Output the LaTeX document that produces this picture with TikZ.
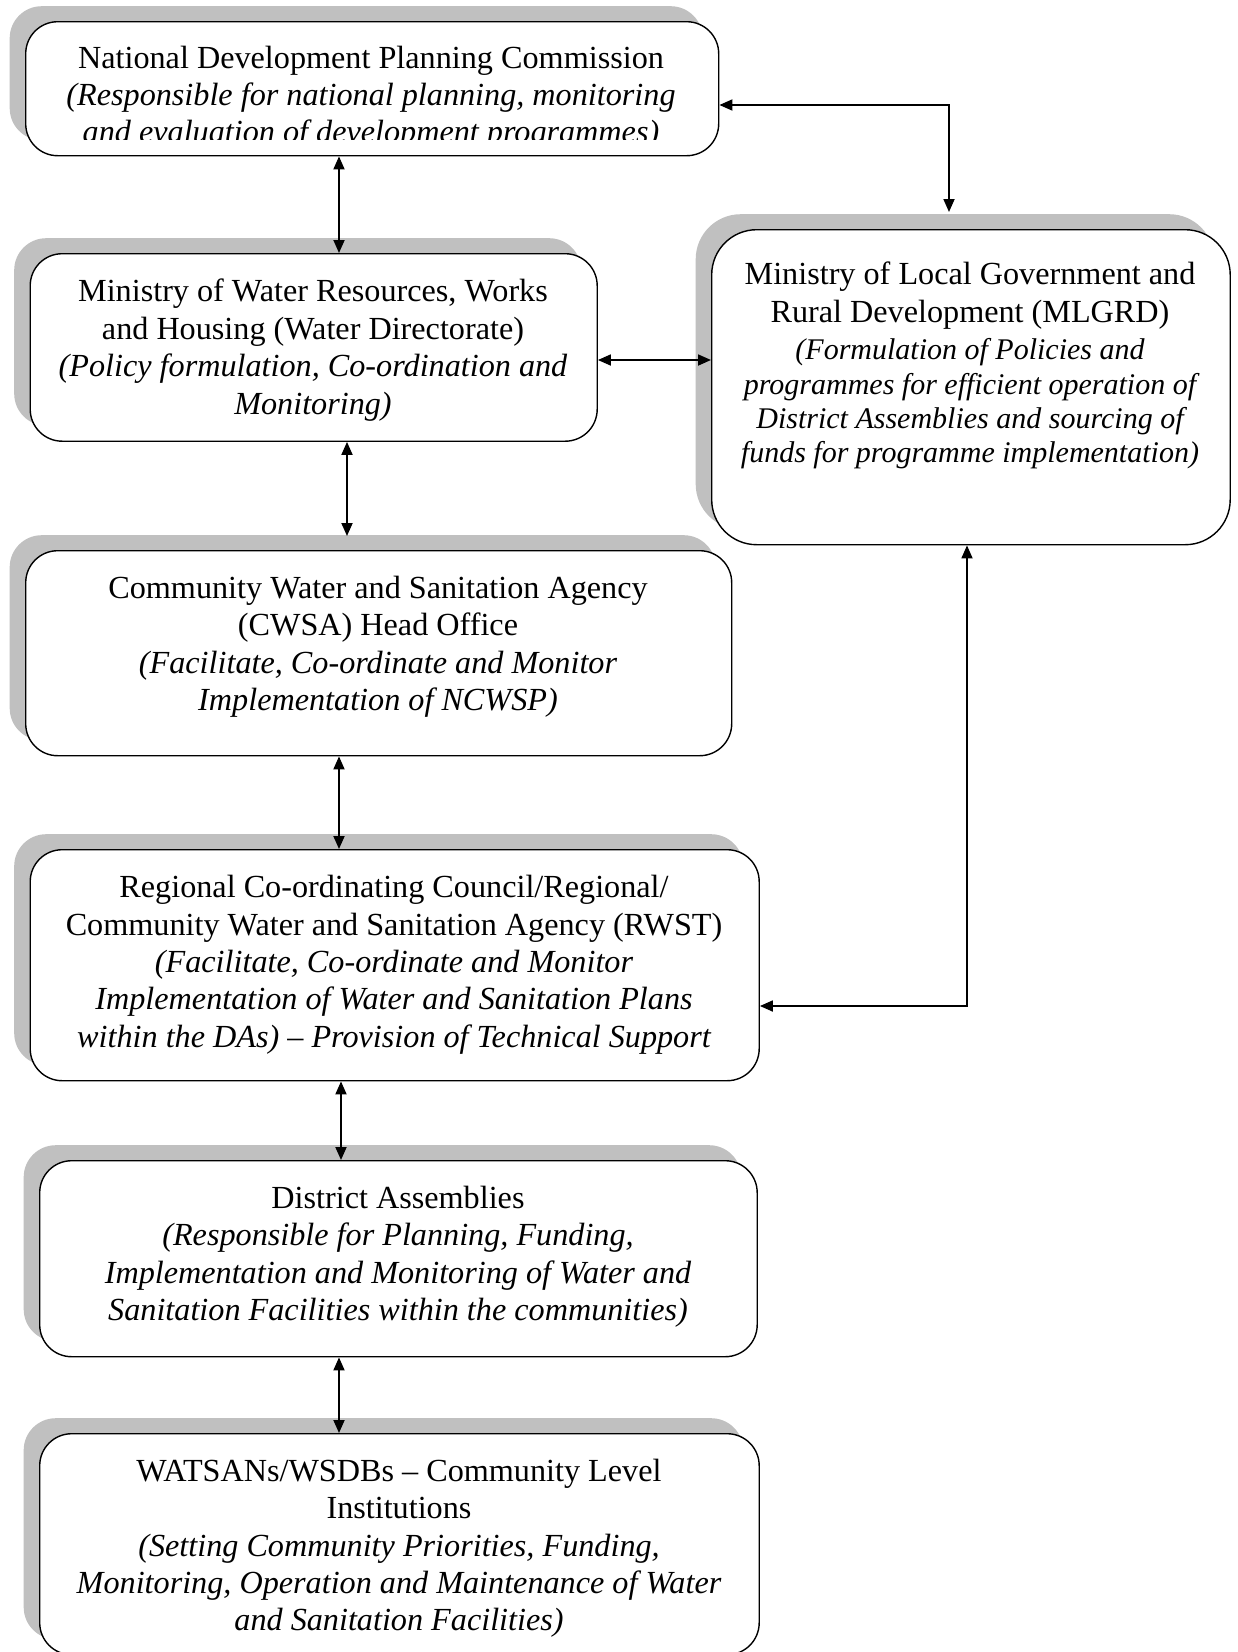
\documentclass[tikz,border=0pt]{standalone}
\usepackage{fontspec}
\setmainfont{Liberation Serif}
\usetikzlibrary{arrows.meta,shadows}
\definecolor{shadowgray}{RGB}{192,192,192}
\newcommand{\smallit}{\fontsize{30}{34}\selectfont\itshape}
\tikzset{
  orgbox/.style={draw=black, line width=1.4pt, fill=white, rounded corners=32pt,
    anchor=north west, inner sep=0pt,
    general shadow={fill=shadowgray, shadow xshift=-16pt, shadow yshift=15.5pt}},
  boxtext/.style={align=center, inner sep=0pt, font=\fontsize{32.2}{37.4}\selectfont},
  biarrow/.style={{Triangle[length=13pt,width=11pt]}-{Triangle[length=13pt,width=11pt]}, line width=1.8pt},
}
\begin{document}
\begin{tikzpicture}[x=1pt,y=-1pt]
\useasboundingbox (0,0) rectangle (1238,1652);
\fill[white] (0,0) rectangle (1238,1652);

% boxes
\node[orgbox, minimum width=693pt, minimum height=134pt] (ndpc) at (25,21) {};
\node[orgbox, minimum width=567pt, minimum height=187.5pt] (mw) at (29.5,253) {};
\node[orgbox, rounded corners=45pt, minimum width=518.5pt, minimum height=315pt] (ml) at (711,229) {};
\node[orgbox, minimum width=706pt, minimum height=205pt] (cw) at (25,550) {};
\node[orgbox, minimum width=729pt, minimum height=231pt] (rc) at (29.5,849) {};
\node[orgbox, minimum width=717.5pt, minimum height=196pt] (da) at (39,1160) {};
\node[orgbox, minimum width=719.5pt, minimum height=221pt] (ws) at (39,1433) {};

% texts
\begin{scope}
\clip (25,21) rectangle (718,139.5);
\node[boxtext] (ndpct) at (371,98) {\strut National Development Planning Commission\\
\itshape (Responsible for national planning, monitoring\\
\itshape and evaluation of development programmes)\strut};
\end{scope}
\node[boxtext] (mwt) at (313,350.5) {\strut Ministry of Water Resources, Works\\
and Housing (Water Directorate)\\
\itshape (Policy formulation, Co-ordination and\\
\itshape Monitoring)\strut};
\node[boxtext] (mlt) at (970,366) {\strut Ministry of Local Government and\\
Rural Development (MLGRD)\\
\smallit (Formulation of Policies and\\[-3pt]
\smallit programmes for efficient operation of\\[-3pt]
\smallit District Assemblies and sourcing of\\[-3pt]
\smallit funds for programme implementation)\strut};
\node[boxtext] (cwt) at (378,647) {\strut Community Water and Sanitation Agency\\
(CWSA) Head Office\\
\itshape (Facilitate, Co-ordinate and Monitor\\
\itshape Implementation of NCWSP)\strut};
\node[boxtext] (rct) at (394,965) {\strut Regional Co-ordinating Council/Regional/\\
Community Water and Sanitation Agency (RWST)\\
\itshape (Facilitate, Co-ordinate and Monitor\\
\itshape Implementation of Water and Sanitation Plans\\
\itshape within the DAs) – Provision of Technical Support\strut};
\node[boxtext] (dat) at (398,1257) {\strut District Assemblies\\
\itshape (Responsible for Planning, Funding,\\
\itshape Implementation and Monitoring of Water and\\
\itshape Sanitation Facilities within the communities)\strut};
\node[boxtext] (wst) at (399,1548.5) {\strut WATSANs/WSDBs – Community Level\\
Institutions\\
\itshape (Setting Community Priorities, Funding,\\
\itshape Monitoring, Operation and Maintenance of Water\\
\itshape and Sanitation Facilities)\strut};

% connector coordinates
\coordinate (c1) at (339,0);
\coordinate (c2) at (949,105);
\coordinate (c2e) at (949,212);
\coordinate (c3) at (0,360);
\coordinate (c4) at (347,0);
\coordinate (c4e) at (347,536);
\coordinate (c5) at (339,0);
\coordinate (c6) at (967,1006);
\coordinate (c7) at (341,0);
\coordinate (c8) at (339,0);

% connectors
\draw[biarrow] (ndpc.south -| c1) -- (mw.north -| c1);
\draw[biarrow] (ndpc.east |- c2) -- (c2) -- (c2e);
\draw[biarrow] (mw.east |- c3) -- (ml.west |- c3);
\draw[biarrow] (mw.south -| c4) -- (c4e);
\draw[biarrow] (cw.south -| c5) -- (rc.north -| c5);
\draw[biarrow] (ml.south -| c6) -- (c6) -- (rc.east |- c6);
\draw[biarrow] (rc.south -| c7) -- (da.north -| c7);
\draw[biarrow] (da.south -| c8) -- (ws.north -| c8);
\end{tikzpicture}
\end{document}
